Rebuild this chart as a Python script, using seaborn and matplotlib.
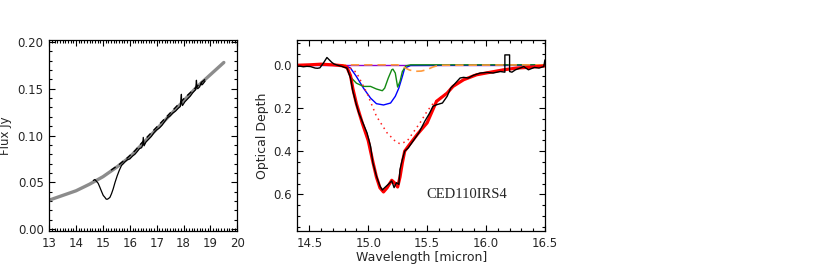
import matplotlib
matplotlib.use("Agg")
import matplotlib.pyplot as plt
import seaborn as sns
from matplotlib.ticker import MultipleLocator

# ---- left panel: flux spectrum and continuum ----
cont_wave = [13.0, 13.5, 14.0, 14.5, 15.0, 15.5, 16.0, 16.5, 17.0, 17.5, 18.0, 18.5, 19.0, 19.5]
cont_flux = [0.031, 0.036, 0.041, 0.048, 0.056, 0.066, 0.077, 0.092, 0.107, 0.122, 0.137, 0.152, 0.165, 0.178]

flux_wave = [14.64, 14.70, 14.76, 14.82, 14.88, 14.95, 15.01, 15.07, 15.12, 15.17, 15.22, 15.26,
             15.32, 15.38, 15.45, 15.53, 15.61, 15.69, 15.76, 15.82, 15.90, 16.00, 16.10, 16.19,
             16.28, 16.36, 16.44, 16.48, 16.50, 16.53, 16.60, 16.70, 16.80, 16.90, 17.00, 17.10,
             17.20, 17.30, 17.40, 17.50, 17.60, 17.70, 17.80, 17.88, 17.92, 17.93, 17.96, 18.05,
             18.15, 18.25, 18.35, 18.45, 18.48, 18.50, 18.53, 18.60, 18.66, 18.68, 18.72, 18.80]
flux_obs = [0.052, 0.053, 0.051, 0.049, 0.045, 0.040, 0.036, 0.034, 0.032, 0.032, 0.033, 0.034,
            0.038, 0.043, 0.050, 0.057, 0.063, 0.068, 0.070, 0.072, 0.074, 0.075, 0.078, 0.080,
            0.083, 0.086, 0.087, 0.090, 0.098, 0.089, 0.093, 0.096, 0.099, 0.103, 0.106, 0.108,
            0.111, 0.115, 0.119, 0.121, 0.124, 0.126, 0.129, 0.131, 0.144, 0.135, 0.132, 0.136,
            0.139, 0.142, 0.146, 0.149, 0.159, 0.151, 0.150, 0.152, 0.157, 0.154, 0.155, 0.158]

dash_wave = [15.3, 15.6, 15.9, 16.2, 16.5, 16.8, 17.1, 17.4, 17.7, 18.0, 18.3, 18.6, 18.8]
dash_flux = [0.063, 0.069, 0.076, 0.084, 0.094, 0.103, 0.112, 0.121, 0.130, 0.139, 0.147, 0.155, 0.160]

# ---- right panel: optical depth ----
tau_wave = [14.39, 14.42, 14.45, 14.48, 14.51, 14.55, 14.57, 14.59, 14.62, 14.65, 14.67, 14.69,
            14.71, 14.73, 14.76, 14.78, 14.80, 14.82, 14.85, 14.87, 14.90, 14.92, 14.95, 14.99,
            15.02, 15.04, 15.07, 15.10, 15.12, 15.14, 15.17, 15.20, 15.22, 15.24, 15.26, 15.27,
            15.29, 15.31, 15.34, 15.38, 15.43, 15.48, 15.52, 15.55, 15.58, 15.63, 15.67, 15.70,
            15.74, 15.78, 15.81, 15.85, 15.89, 15.95, 16.01, 16.06, 16.12, 16.16, 16.16, 16.20,
            16.20, 16.22, 16.25, 16.29, 16.32, 16.36, 16.41, 16.45, 16.49, 16.50]
tau_obs = [0.008, 0.006, 0.009, 0.007, 0.008, 0.015, 0.016, 0.014, -0.008, -0.034, -0.023, -0.012,
           -0.004, 0.000, 0.005, 0.008, 0.012, 0.015, 0.061, 0.123, 0.185, 0.222, 0.262, 0.315,
           0.377, 0.454, 0.515, 0.562, 0.580, 0.569, 0.554, 0.538, 0.569, 0.546, 0.554, 0.485,
           0.438, 0.400, 0.385, 0.354, 0.315, 0.262, 0.225, 0.192, 0.185, 0.177, 0.146, 0.108,
           0.085, 0.061, 0.058, 0.061, 0.049, 0.038, 0.035, 0.038, 0.031, 0.034, -0.046, -0.046,
           0.031, 0.034, 0.023, 0.015, 0.008, 0.023, 0.012, 0.015, 0.008, -0.023]

fit_wave = [14.40, 14.50, 14.60, 14.70, 14.78, 14.82, 14.85, 14.87, 14.90, 14.95, 15.00, 15.04,
            15.07, 15.10, 15.13, 15.16, 15.20, 15.23, 15.25, 15.27, 15.29, 15.31, 15.35, 15.42,
            15.50, 15.58, 15.67, 15.72, 15.81, 15.92, 16.04, 16.15, 16.26, 16.38, 16.50]
fit_tau = [0.002, 0.000, -0.003, 0.000, 0.004, 0.012, 0.050, 0.110, 0.180, 0.270, 0.350, 0.450,
           0.520, 0.570, 0.589, 0.570, 0.535, 0.550, 0.566, 0.520, 0.454, 0.400, 0.370, 0.320,
           0.269, 0.169, 0.131, 0.100, 0.069, 0.046, 0.034, 0.023, 0.015, 0.011, 0.005]

broad_wave = [14.40, 14.80, 14.83, 14.90, 14.99, 15.07, 15.16, 15.23, 15.27, 15.33, 15.38, 15.44,
              15.50, 15.55, 15.58, 15.67, 15.72, 15.81, 15.92, 16.04, 16.15, 16.26, 16.38, 16.50]
broad_tau = [0.0, 0.0, 0.008, 0.035, 0.131, 0.238, 0.315, 0.354, 0.366, 0.354, 0.315, 0.269,
             0.215, 0.180, 0.166, 0.129, 0.099, 0.068, 0.045, 0.033, 0.022, 0.014, 0.010, 0.005]

blue_wave = [14.40, 14.79, 14.85, 14.90, 14.96, 15.02, 15.07, 15.13, 15.19, 15.23, 15.26, 15.29,
             15.31, 15.36, 16.50]
blue_tau = [0.0, 0.0, 0.015, 0.054, 0.108, 0.154, 0.180, 0.186, 0.177, 0.146, 0.108, 0.054,
            0.015, 0.003, 0.0]

green_wave = [14.40, 14.79, 14.83, 14.86, 14.90, 14.96, 15.02, 15.07, 15.12, 15.14, 15.17, 15.20,
              15.21, 15.23, 15.25, 15.27, 15.29, 15.32, 15.36, 16.50]
green_tau = [0.0, 0.0, 0.023, 0.062, 0.085, 0.100, 0.100, 0.112, 0.120, 0.108, 0.062, 0.023,
             0.020, 0.038, 0.103, 0.077, 0.031, 0.005, 0.0, 0.0]

orange_wave = [14.40, 15.25, 15.30, 15.35, 15.40, 15.45, 15.50, 15.55, 15.60, 16.50]
orange_tau = [0.0, 0.0, 0.010, 0.024, 0.030, 0.029, 0.022, 0.010, 0.002, 0.0]

purple_wave = [14.40, 16.50]
purple_tau = [0.0, 0.0]

sns.set_style("ticks")
plt.rcParams['font.family'] = ['DejaVu Sans']
plt.rcParams['xtick.direction'] = 'in'
plt.rcParams['ytick.direction'] = 'in'

fig = plt.figure(figsize=(8.17, 2.72), dpi=100)
ax1 = fig.add_axes([0.0603, 0.1507, 0.2301, 0.7022])
ax2 = fig.add_axes([0.3641, 0.1507, 0.3029, 0.7022])

# left panel
sns.lineplot(x=cont_wave, y=cont_flux, color='#8c8c8c', lw=2.4, ax=ax1, estimator=None, sort=False)
sns.lineplot(x=dash_wave, y=dash_flux, color='black', lw=1.0, ls=(0, (4, 3)), ax=ax1, estimator=None, sort=False)
sns.lineplot(x=flux_wave, y=flux_obs, color='black', lw=0.9, ax=ax1, estimator=None, sort=False)
ax1.set_xlim(13, 20)
ax1.set_ylim(-0.002, 0.202)
ax1.xaxis.set_major_locator(MultipleLocator(1))
ax1.xaxis.set_minor_locator(MultipleLocator(0.1))
ax1.yaxis.set_major_locator(MultipleLocator(0.05))
ax1.yaxis.set_minor_locator(MultipleLocator(0.01))
ax1.yaxis.set_major_formatter(plt.FormatStrFormatter('%.2f'))
ax1.set_ylabel("Flux Jy", fontsize=8.5)
ax1.yaxis.set_label_coords(-0.2, 0.5)

# right panel
sns.lineplot(x=purple_wave, y=purple_tau, color='#8a00d4', lw=1.0, ax=ax2, estimator=None, sort=False)
sns.lineplot(x=blue_wave, y=blue_tau, color='#0000ff', lw=1.0, ax=ax2, estimator=None, sort=False)
sns.lineplot(x=green_wave, y=green_tau, color='#138a13', lw=1.0, ax=ax2, estimator=None, sort=False)
sns.lineplot(x=orange_wave, y=orange_tau, color='#ff9a3c', lw=1.2, ls=(0, (5, 3)), ax=ax2, estimator=None, sort=False)
sns.lineplot(x=broad_wave, y=broad_tau, color='#ff2020', lw=1.1, ls=(0, (1, 2.5)), ax=ax2, estimator=None, sort=False)
sns.lineplot(x=fit_wave, y=fit_tau, color='#ff0000', lw=2.3, ax=ax2, estimator=None, sort=False)
sns.lineplot(x=tau_wave, y=tau_obs, color='black', lw=1.0, ax=ax2, estimator=None, sort=False)
ax2.set_xlim(14.4, 16.5)
ax2.set_ylim(0.77, -0.115)
ax2.xaxis.set_major_locator(MultipleLocator(0.5))
ax2.xaxis.set_minor_locator(MultipleLocator(0.1))
ax2.yaxis.set_major_locator(MultipleLocator(0.2))
ax2.yaxis.set_minor_locator(MultipleLocator(0.05))
ax2.xaxis.set_major_formatter(plt.FormatStrFormatter('%.1f'))
ax2.yaxis.set_major_formatter(plt.FormatStrFormatter('%.1f'))
ax2.set_xlabel("Wavelength [micron]", fontsize=9, labelpad=1)
ax2.set_ylabel("Optical Depth", fontsize=9, labelpad=3)
ax2.text(15.84, 0.60, "CED110IRS4", fontsize=10.5, family='Liberation Serif', ha='center', va='center')

for ax in (ax1, ax2):
    ax.tick_params(which='both', top=True, right=True, labelsize=8.5, width=0.8, color='black', pad=4)
    ax.tick_params(which='major', length=4)
    ax.tick_params(which='minor', length=2)
    for s in ax.spines.values():
        s.set_linewidth(0.9)
        s.set_color('black')

fig.savefig("out.png", dpi=100)
